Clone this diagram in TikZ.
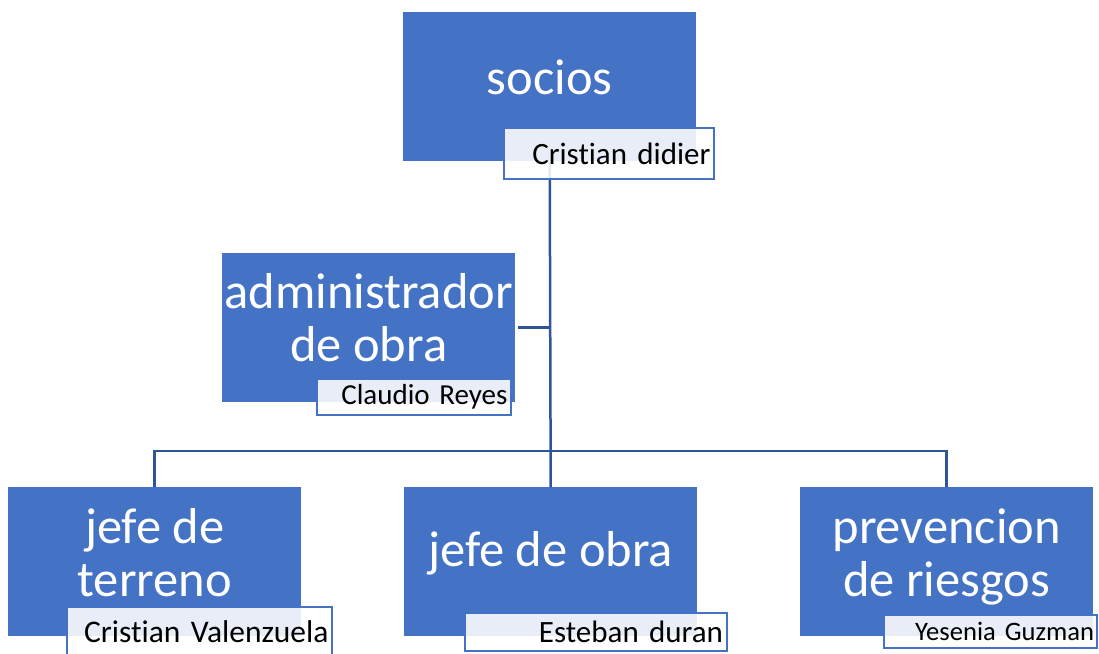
\documentclass[tikz,border=0pt]{standalone}
\usepackage{fontspec}
\setmainfont{Carlito}[Ligatures=NoCommon]
\usepackage{tikz}
\usetikzlibrary{positioning,calc}
\usepackage{xcolor}

\definecolor{azul}{HTML}{4472C4}
\definecolor{azulosc}{HTML}{2F5597}

\tikzset{
  caja/.style={fill=azul, draw=none, anchor=north west,
    minimum width=293pt, minimum height=149pt, inner sep=0pt},
  texto/.style={text=white, align=center, inner sep=0pt,
    font=\fontsize{50.5}{53}\selectfont},
  etiqueta/.style={fill=white, fill opacity=0.88, text opacity=1, draw=azul, line width=2pt,
    anchor=north west, inner sep=0pt, align=right, text=black,
    font=\fontsize{31}{33}\selectfont},
  linea/.style={draw=azulosc, line width=2.5pt},
}

\begin{document}
\begin{tikzpicture}[x=1pt, y=-1pt]

\useasboundingbox (0,0) rectangle (1099,653);

% cajas
\node[caja] (socios) at (403,12) {};
\node[caja] (admin) at (222,253) {};
\node[caja] (terreno) at (8,487) {};
\node[caja] (obra) at (404,487) {};
\node[caja] (prevencion) at (800,487) {};

% textos
\node[texto] (tsocios) at ([yshift=9pt]socios.center) {socios};
\node[texto] (tadmin) at ([yshift=10pt]admin.center) {administrador\\de obra};
\node[texto] (tterreno) at ([yshift=9pt]terreno.center) {jefe de\\terreno};
\node[texto] (tobra) at ([yshift=8pt]obra.center) {jefe de obra};
\node[texto] (tprevencion) at ([yshift=5pt]prevencion.center) {prevencion\\de riesgos};

% conectores
\coordinate (bus) at (549,451);
\draw[linea] (socios.south) -- (obra.north);
\draw[linea] (terreno.north) |- (bus) -| (prevencion.north);
\draw[linea] ([xshift=3pt]admin.east) -- (admin.east -| socios.south);

% nombres
\node[etiqueta, minimum width=210pt, minimum height=51pt, text width=203pt] (nsocios) at (503,127) {Cristian didier};
\node[etiqueta, minimum width=194pt, minimum height=36pt, text width=187pt, font=\fontsize{29}{31}\selectfont] (nadmin) at (316,378) {Claudio Reyes};
\node[etiqueta, minimum width=265pt, minimum height=50pt, text width=258pt, font=\fontsize{31.5}{33}\selectfont] (nterreno) at (66,606) {Cristian Valenzuela};
\node[etiqueta, minimum width=262pt, minimum height=38pt, text width=254pt] (nobra) at (464,612) {Esteban duran};
\node[etiqueta, minimum width=213pt, minimum height=33pt, text width=207pt, font=\fontsize{26.6}{28}\selectfont] (nprevencion) at (883,614) {Yesenia Guzman};

\end{tikzpicture}
\end{document}
